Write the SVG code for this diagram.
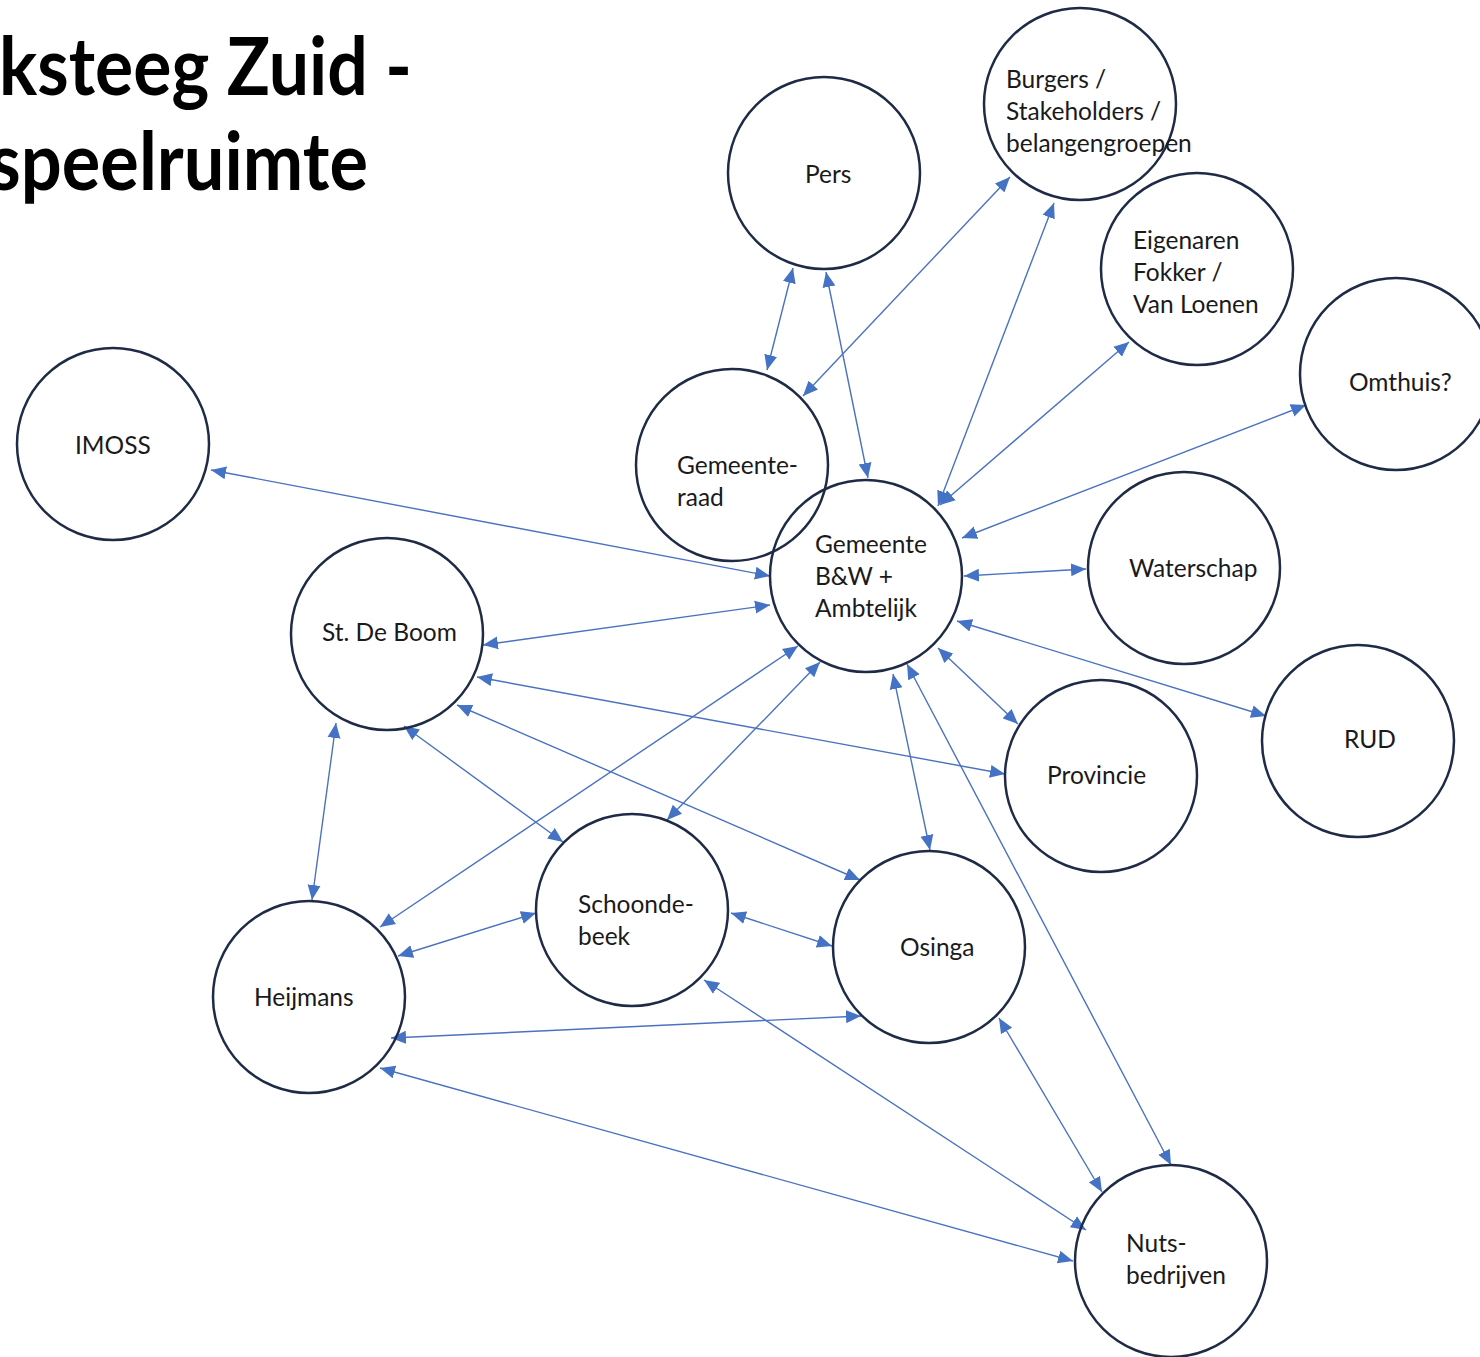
<svg xmlns="http://www.w3.org/2000/svg" width="1480" height="1357" viewBox="0 0 1480 1357">
<style>
.n{fill:none;stroke:#1f2b46;stroke-width:2.5}
.t{font-family:Lato,"Liberation Sans",sans-serif;font-size:24.5px;fill:#1a1a1a}
.title{font-family:Lato,"Liberation Sans",sans-serif;font-size:80px;font-weight:bold;fill:#000}
.c line{stroke:#4a72c0;stroke-width:1.4;marker-start:url(#a);marker-end:url(#a)}
</style>
<defs>
<marker id="a" markerUnits="userSpaceOnUse" markerWidth="16" markerHeight="14" refX="15" refY="6.5" orient="auto-start-reverse" viewBox="0 0 16 13">
<path d="M0,0 L15,6.5 L0,13 z" fill="#4472c4"/>
</marker>
</defs>
<rect width="1480" height="1357" fill="#fff"/>
<g id="title">
<text class="title" x="-1" y="95" textLength="413" lengthAdjust="spacingAndGlyphs">ksteeg Zuid -</text>
<text class="title" x="-11" y="190" textLength="379" lengthAdjust="spacingAndGlyphs">speelruimte</text>
</g>
<g class="c" id="connectors">
<line x1="793" y1="268" x2="767" y2="370"/>
<line x1="826" y1="272" x2="868" y2="478"/>
<line x1="1010" y1="177" x2="803" y2="396"/>
<line x1="1054" y1="203" x2="938" y2="506"/>
<line x1="1129" y1="342" x2="940" y2="505"/>
<line x1="1306" y1="405" x2="962" y2="538"/>
<line x1="211" y1="470" x2="770" y2="576"/>
<line x1="1086" y1="569" x2="964" y2="576"/>
<line x1="483" y1="645" x2="770" y2="605"/>
<line x1="1266" y1="716" x2="957" y2="621"/>
<line x1="1018" y1="724" x2="938" y2="648"/>
<line x1="477" y1="677" x2="1005" y2="774"/>
<line x1="380" y1="927" x2="798" y2="646"/>
<line x1="667" y1="820" x2="820" y2="662"/>
<line x1="930" y1="850" x2="893" y2="674"/>
<line x1="1171" y1="1165" x2="907" y2="664"/>
<line x1="336" y1="723" x2="312" y2="900"/>
<line x1="404" y1="726" x2="563" y2="842"/>
<line x1="457" y1="705" x2="860" y2="880"/>
<line x1="398" y1="956" x2="536" y2="913"/>
<line x1="731" y1="913" x2="832" y2="946"/>
<line x1="391" y1="1038" x2="861" y2="1016"/>
<line x1="704" y1="980" x2="1086" y2="1230"/>
<line x1="999" y1="1018" x2="1102" y2="1192"/>
<line x1="380" y1="1068" x2="1073" y2="1261"/>
</g>
<g id="pers"><circle class="n" cx="824" cy="173" r="96"/><text class="t" x="805" y="183">Pers</text></g>
<g id="burgers"><circle class="n" cx="1080" cy="104" r="96"/><text class="t" x="1006" y="88">Burgers /</text><text class="t" x="1006" y="120">Stakeholders /</text><text class="t" x="1006" y="152">belangengroepen</text></g>
<g id="eigenaren"><circle class="n" cx="1197" cy="269" r="96"/><text class="t" x="1133" y="249">Eigenaren</text><text class="t" x="1133" y="281">Fokker /</text><text class="t" x="1133" y="313">Van Loenen</text></g>
<g id="omthuis"><circle class="n" cx="1396" cy="374" r="96"/><text class="t" x="1349" y="391">Omthuis?</text></g>
<g id="imoss"><circle class="n" cx="113" cy="444" r="96"/><text class="t" x="75" y="454">IMOSS</text></g>
<g id="gemeenteraad"><circle class="n" cx="732" cy="465" r="96"/><text class="t" x="677" y="474">Gemeente-</text><text class="t" x="677" y="506">raad</text></g>
<g id="gemeente"><circle class="n" cx="866" cy="576" r="96"/><text class="t" x="815" y="553">Gemeente</text><text class="t" x="815" y="585">B&amp;W +</text><text class="t" x="815" y="617">Ambtelijk</text></g>
<g id="waterschap"><circle class="n" cx="1184" cy="568" r="96"/><text class="t" x="1129" y="577">Waterschap</text></g>
<g id="deboom"><circle class="n" cx="387" cy="634" r="96"/><text class="t" x="322" y="641">St. De Boom</text></g>
<g id="rud"><circle class="n" cx="1358" cy="741" r="96"/><text class="t" x="1344" y="748">RUD</text></g>
<g id="provincie"><circle class="n" cx="1101" cy="776" r="96"/><text class="t" x="1047" y="784">Provincie</text></g>
<g id="schoondebeek"><circle class="n" cx="632" cy="910" r="96"/><text class="t" x="578" y="913">Schoonde-</text><text class="t" x="578" y="945">beek</text></g>
<g id="osinga"><circle class="n" cx="929" cy="947" r="96"/><text class="t" x="900" y="956">Osinga</text></g>
<g id="heijmans"><circle class="n" cx="309" cy="997" r="96"/><text class="t" x="254" y="1006">Heijmans</text></g>
<g id="nuts"><circle class="n" cx="1171" cy="1261" r="96"/><text class="t" x="1126" y="1252">Nuts-</text><text class="t" x="1126" y="1284">bedrijven</text></g>
</svg>
